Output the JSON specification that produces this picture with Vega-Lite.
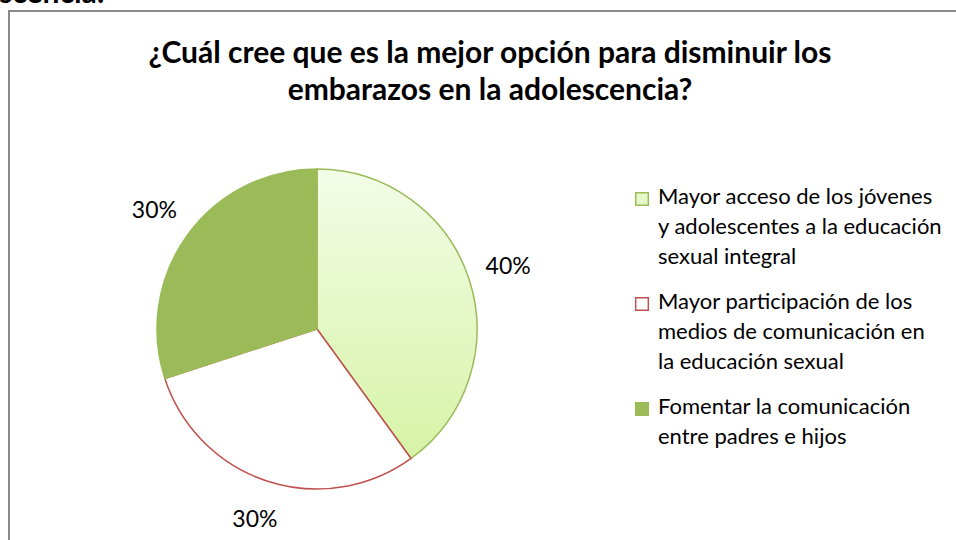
{
  "$schema": "https://vega.github.io/schema/vega-lite/v6.json",
  "width": 950,
  "height": 540,
  "autosize": "none",
  "padding": {"left": 9, "top": 11, "right": 0, "bottom": 0},
  "background": "white",
  "config": {
    "font": "Lato",
    "view": {"stroke": "#8a8a8a", "strokeWidth": 2}
  },
  "title": {
    "text": ["¿Cuál cree que es la mejor opción para disminuir los", "embarazos en la adolescencia?"],
    "anchor": "middle",
    "dx": 6,
    "offset": -128,
    "fontSize": 30,
    "fontWeight": "bold",
    "font": "Lato",
    "color": "#000000",
    "lineHeight": 37
  },
  "data": {
    "values": [
      {"opcion": "Mayor acceso de los jóvenes y adolescentes a la educación sexual integral", "pct": 0.4, "orden": 1},
      {"opcion": "Mayor participación de los medios de comunicación en la educación sexual", "pct": 0.3, "orden": 2},
      {"opcion": "Fomentar la comunicación entre padres e hijos", "pct": 0.3, "orden": 3}
    ]
  },
  "encoding": {
    "theta": {"field": "pct", "type": "quantitative", "stack": true},
    "order": {"field": "orden", "type": "quantitative", "sort": "ascending"},
    "x": {
      "datum": 308, "type": "quantitative",
      "scale": {"domain": [0, 950], "nice": false, "zero": false},
      "axis": {
        "orient": "top", "domain": false, "ticks": false, "labels": false, "grid": false,
        "title": "adolescencia:", "titleFont": "Lato", "titleFontSize": 30, "titleFontWeight": "bold",
        "titleColor": "#000000", "titleAlign": "right", "titleAnchor": null,
        "titleX": 95, "titleY": -9, "titleBaseline": "alphabetic", "titleAngle": 0
      }
    },
    "y": {
      "datum": 318, "type": "quantitative",
      "scale": {"domain": [0, 540], "nice": false, "zero": false, "reverse": true},
      "axis": null
    }
  },
  "layer": [
    {
      "mark": {"type": "arc", "radius": 160, "strokeWidth": 1.5},
      "encoding": {
        "fill": {
          "condition": {
            "test": "datum.orden === 1",
            "value": {"gradient": "linear", "x1": 0, "y1": 0, "x2": 0, "y2": 1,
              "stops": [{"offset": 0, "color": "#f3fce7"}, {"offset": 1, "color": "#d7f3a6"}]}
          },
          "field": "opcion", "type": "nominal",
          "scale": {
            "domain": [
              "Mayor acceso de los jóvenes y adolescentes a la educación sexual integral",
              "Mayor participación de los medios de comunicación en la educación sexual",
              "Fomentar la comunicación entre padres e hijos"
            ],
            "range": ["#e6f8c9", "#ffffff", "#9bbb59"]
          },
          "sort": null,
          "legend": {
            "title": null,
            "orient": "none",
            "legendX": 622,
            "legendY": 177,
            "padding": 0,
            "symbolType": "square",
            "symbolSize": 160,
            "symbolStrokeWidth": 1.5,
            "labelFont": "Lato",
            "labelFontSize": 22,
            "labelColor": "#000000",
            "labelLimit": 400,
            "labelOffset": 5,
            "labelBaseline": "top",
            "rowPadding": 23,
            "labelExpr": "indexof(datum.value,'acceso')>=0 ? ['Mayor acceso de los jóvenes','y adolescentes a la educación','sexual integral'] : indexof(datum.value,'participación')>=0 ? ['Mayor participación de los','medios de comunicación en','la educación sexual'] : ['Fomentar la comunicación','entre padres e hijos']",
            "encode": {
              "labels": {"update": {"lineHeight": {"value": 30}, "dy": {"value": -12}}},
              "symbols": {
                "enter": {"fill": {"signal": "indexof(datum.value,'participación')>=0 ? '#f2b3b1' : indexof(datum.value,'acceso')>=0 ? '#e2f6c2' : '#9bbb59'"}},
                "update": {"fill": {"signal": "indexof(datum.value,'participación')>=0 ? '#f2b3b1' : indexof(datum.value,'acceso')>=0 ? '#e2f6c2' : '#9bbb59'"}}
              }
            }
          }
        },
        "stroke": {
          "field": "opcion", "type": "nominal",
          "scale": {
            "domain": [
              "Mayor acceso de los jóvenes y adolescentes a la educación sexual integral",
              "Mayor participación de los medios de comunicación en la educación sexual",
              "Fomentar la comunicación entre padres e hijos"
            ],
            "range": ["#9bbb59", "#c0504d", "#9bbb59"]
          },
          "sort": null
        }
      }
    },
    {
      "mark": {"type": "text", "radius": 201, "fontSize": 23, "font": "Lato", "color": "#000000"},
      "encoding": {
        "text": {"field": "pct", "type": "quantitative", "format": ".0%"}
      }
    }
  ]
}
